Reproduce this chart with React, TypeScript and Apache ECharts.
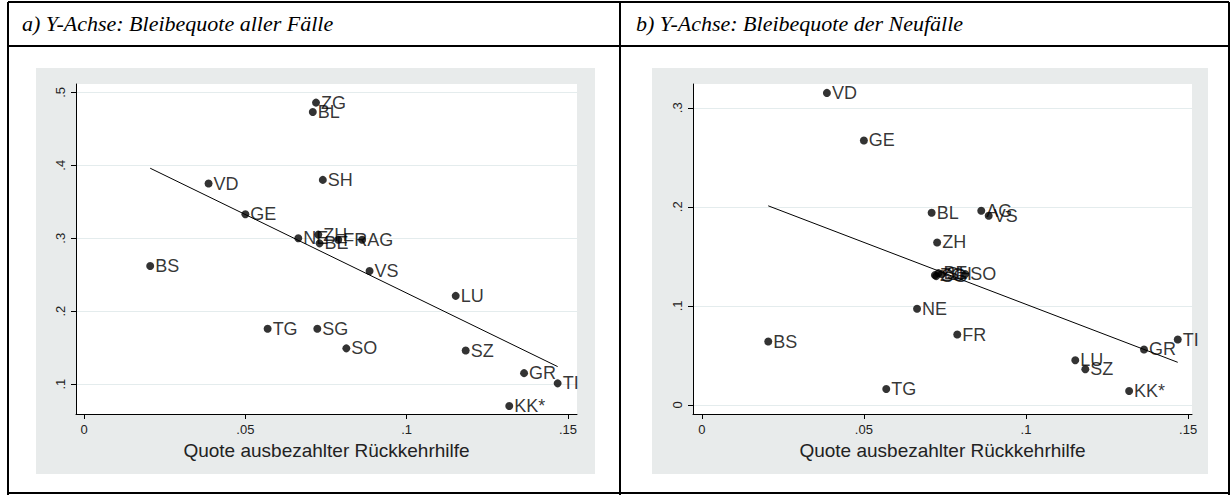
import React, { useEffect, useRef } from "react";
import * as echarts from "echarts";

// Shared x variable: Quote ausbezahlter Rückkehrhilfe
const cantons = ["ZG", "BL", "VD", "SH", "GE", "NE", "ZH", "BE", "FR", "AG", "BS", "VS", "LU", "TG", "SG", "SO", "SZ", "GR", "TI", "KK*"];
const quoteRueckkehrhilfe = [0.0719, 0.0709, 0.0386, 0.0740, 0.0500, 0.0664, 0.0726, 0.0730, 0.0788, 0.0862, 0.0205, 0.0885, 0.1152, 0.0569, 0.0723, 0.0813, 0.1183, 0.1364, 0.1468, 0.1318];
// a) Bleibequote aller Fälle
const bleibeAlle = [0.486, 0.473, 0.375, 0.380, 0.333, 0.300, 0.305, 0.293, 0.298, 0.298, 0.262, 0.255, 0.221, 0.176, 0.176, 0.149, 0.146, 0.115, 0.101, 0.070];
// b) Bleibequote der Neufälle
const bleibeNeu = [0.131, 0.194, 0.315, 0.132, 0.267, 0.097, 0.164, 0.133, 0.071, 0.196, 0.064, 0.191, 0.045, 0.016, 0.130, 0.132, 0.036, 0.056, 0.066, 0.014];
// fitted lines
const fitX = [0.0205, 0.1468];
const fitAlle = [0.396, 0.124];
const fitNeu = [0.201, 0.043];
// tick labels
const xTicks = [0, 0.05, 0.1, 0.15];
const yTicksA = [0.1, 0.2, 0.3, 0.4, 0.5];
const yTicksB = [0, 0.1, 0.2, 0.3];
const titles = ["a) Y-Achse: Bleibequote aller Fälle", "b) Y-Achse: Bleibequote der Neufälle"];
const xTitle = "Quote ausbezahlter Rückkehrhilfe";

const W = 1231;
const H = 495;
const fmt = (v: number) => (v === 0 ? "0" : v.toFixed(2).replace(/0+$/, "").replace(/^0/, ""));
const SANS = "'Liberation Sans', Arial, sans-serif";

export default function App() {
  const ref = useRef<HTMLDivElement>(null);
  useEffect(() => {
    if (!ref.current) return;
    const chart = echarts.init(ref.current, null, { renderer: "svg" });

    const grids = [
      { left: 76, top: 84, width: 501, height: 330 },
      { left: 693, top: 84, width: 499, height: 330 },
    ];
    const ranges = [
      { xmin: -0.0025, xmax: 0.1528, ymin: 0.059, ymax: 0.5115, ticks: yTicksA },
      { xmin: -0.0027, xmax: 0.1512, ymin: -0.0092, ymax: 0.324, ticks: yTicksB },
    ];

    const xAxis = ranges.map((r, i) => ({
      type: "value",
      gridIndex: i,
      min: r.xmin,
      max: r.xmax,
      name: xTitle,
      nameLocation: "middle",
      nameGap: 26,
      nameTextStyle: { fontFamily: SANS, fontSize: 19, color: "#222" },
      axisLine: { show: true, onZero: false, lineStyle: { color: "#000", width: 1 } },
      axisTick: { show: true, customValues: xTicks, length: 5, lineStyle: { color: "#000" } },
      axisLabel: { customValues: xTicks, formatter: fmt, fontFamily: SANS, fontSize: 13, color: "#222", margin: 9 },
      splitLine: { show: false },
    }));
    const yAxis = ranges.map((r, i) => ({
      type: "value",
      gridIndex: i,
      min: r.ymin,
      max: r.ymax,
      axisLine: { show: true, onZero: false, lineStyle: { color: "#000", width: 1 } },
      axisTick: { show: true, customValues: r.ticks, length: 5, lineStyle: { color: "#000" } },
      axisLabel: { customValues: r.ticks, formatter: fmt, rotate: 90, fontFamily: SANS, fontSize: 13, color: "#222", margin: 9 },
      splitLine: { show: false },
    }));

    const mkScatter = (ys: number[], i: number, ticks: number[]) => ({
      type: "scatter",
      xAxisIndex: i,
      yAxisIndex: i,
      symbol: "circle",
      symbolSize: 8,
      itemStyle: { color: "#000" },
      label: {
        show: true,
        position: "right",
        distance: 1,
        formatter: "{b}",
        fontFamily: SANS,
        fontSize: 18,
        color: "#000",
      },
      data: cantons.map((c, k) => ({ name: c, value: [quoteRueckkehrhilfe[k], ys[k]] })),
      markLine: {
        silent: true,
        symbol: "none",
        label: { show: false },
        lineStyle: { color: "#e4eced", width: 1, type: "solid" },
        data: ticks.map((t) => ({ yAxis: t })),
        z: 0,
      },
      z: 5,
    });
    const mkLine = (ys: number[], i: number) => ({
      type: "line",
      xAxisIndex: i,
      yAxisIndex: i,
      symbol: "none",
      lineStyle: { color: "#000", width: 1 },
      data: fitX.map((x, k) => [x, ys[k]]),
      z: 4,
    });

    const line = (x1: number, y1: number, x2: number, y2: number) => ({
      type: "line",
      shape: { x1, y1, x2, y2 },
      style: { stroke: "#000", lineWidth: 2 },
      z: 100,
    });

    chart.setOption({
      animation: false,
      backgroundColor: "#fff",
      grid: grids.map((g) => ({ ...g, show: true, backgroundColor: "#fff", borderWidth: 0, containLabel: false })),
      xAxis,
      yAxis,
      series: [
        mkLine(fitAlle, 0),
        mkScatter(bleibeAlle, 0, yTicksA),
        mkLine(fitNeu, 1),
        mkScatter(bleibeNeu, 1, yTicksB),
      ],
      graphic: [
        { type: "rect", shape: { x: 36, y: 68, width: 559, height: 406 }, style: { fill: "#e8ebeb" }, z: -100 },
        { type: "rect", shape: { x: 652, y: 68, width: 556, height: 406 }, style: { fill: "#e8ebeb" }, z: -100 },
        line(8, 2, 1229, 2),
        line(8, 46, 1229, 46),
        line(8, 2, 8, 495),
        line(1229, 2, 1229, 495),
        line(620, 2, 620, 495),
        line(8, 493, 1229, 493),
        {
          type: "text",
          x: 22,
          y: 23,
          style: { text: titles[0], font: "italic 22px 'Liberation Serif', serif", fill: "#000", verticalAlign: "middle" },
          z: 100,
        },
        {
          type: "text",
          x: 636,
          y: 23,
          style: { text: titles[1], font: "italic 22px 'Liberation Serif', serif", fill: "#000", verticalAlign: "middle" },
          z: 100,
        },
      ],
    });
    return () => chart.dispose();
  }, []);
  return <div ref={ref} style={{ position: "absolute", left: 0, top: 0, width: W, height: H, background: "#fff" }} />;
}
